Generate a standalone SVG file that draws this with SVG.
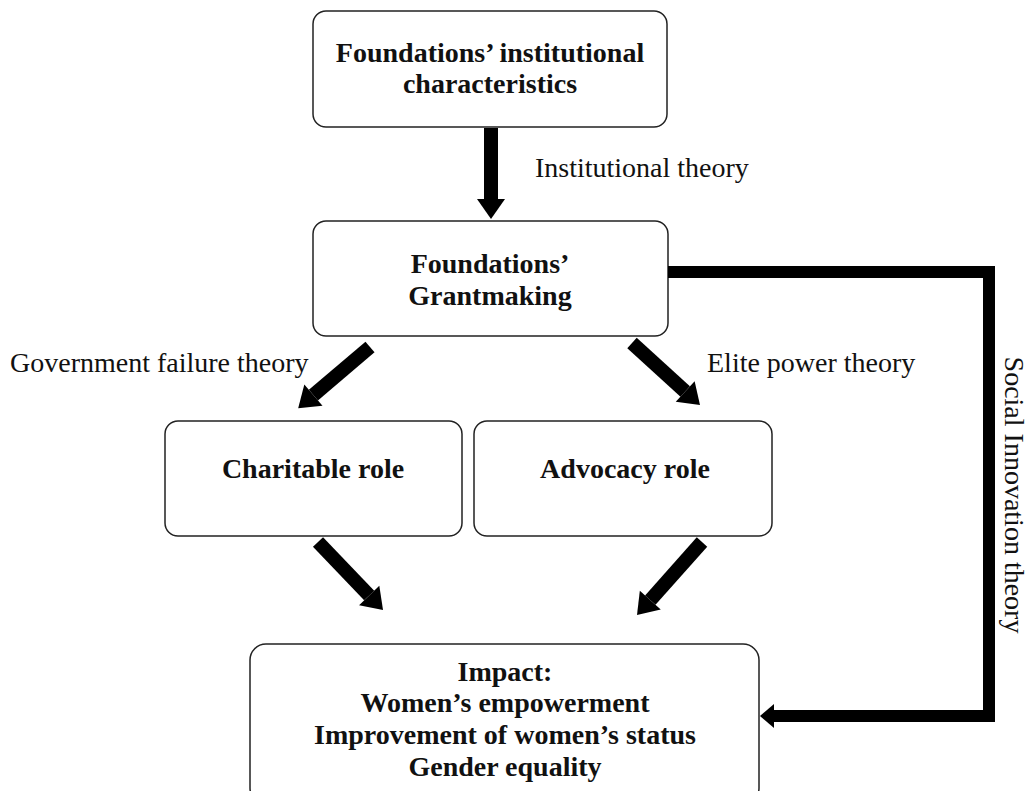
<svg xmlns="http://www.w3.org/2000/svg" width="1035" height="791" viewBox="0 0 1035 791">
<defs>
<marker id="ah" markerUnits="userSpaceOnUse" markerWidth="20" markerHeight="28" refX="0" refY="14" orient="auto" overflow="visible">
<path d="M0,0 L20,14 L0,28 z" fill="#000"/>
</marker>
<marker id="ah2" markerUnits="userSpaceOnUse" markerWidth="14" markerHeight="24" refX="0" refY="12" orient="auto" overflow="visible">
<path d="M0,0 L14,12 L0,24 z" fill="#000"/>
</marker>
<style>
.box{fill:#fff;stroke:#222;stroke-width:1.5}
.bt{font-family:"Liberation Serif","Times New Roman",serif;font-weight:bold;font-size:28px;fill:#111;text-anchor:middle}
.lb{font-family:"Liberation Serif","Times New Roman",serif;font-size:28px;fill:#111}
.ar{stroke:#000;stroke-width:14;fill:none;marker-end:url(#ah)}
.sc{stroke:#000;stroke-width:12;fill:none;stroke-linejoin:miter;marker-end:url(#ah2)}
</style>
</defs>
<rect width="1035" height="791" fill="#fff"/>
<g id="n1"><rect class="box" x="313" y="11" width="354" height="116" rx="13"/>
<text class="bt" x="490" y="62">Foundations’ institutional</text>
<text class="bt" x="490" y="93">characteristics</text></g>
<g id="n2"><rect class="box" x="313" y="221" width="355" height="115" rx="13"/>
<text class="bt" x="490" y="273">Foundations’</text>
<text class="bt" x="490" y="305">Grantmaking</text></g>
<g id="n3"><rect class="box" x="165" y="421" width="297" height="115" rx="13"/>
<text class="bt" x="313" y="478">Charitable role</text></g>
<g id="n4"><rect class="box" x="474" y="421" width="298" height="115" rx="13"/>
<text class="bt" x="625" y="478">Advocacy role</text></g>
<g id="n5"><rect class="box" x="250" y="644" width="509" height="160" rx="16"/>
<text class="bt" x="505" y="681">Impact:</text>
<text class="bt" x="505" y="712">Women’s empowerment</text>
<text class="bt" x="505" y="744">Improvement of women’s status</text>
<text class="bt" x="505" y="776">Gender equality</text></g>
<g id="connectors">
<line class="ar" x1="491" y1="128" x2="491" y2="199"/>
<line class="ar" x1="370" y1="347" x2="313.4" y2="395.2"/>
<line class="ar" x1="632" y1="343" x2="685.2" y2="391.5"/>
<line class="ar" x1="318" y1="542" x2="369.2" y2="595.5"/>
<line class="ar" x1="702" y1="542" x2="650.3" y2="600.1"/>
<path class="sc" d="M668,272 H989 V716 H774"/>
</g>
<g id="labels">
<text class="lb" x="535" y="177">Institutional theory</text>
<text class="lb" x="10" y="372">Government failure theory</text>
<text class="lb" x="707" y="372">Elite power theory</text>
<text class="lb" x="1005" y="495" text-anchor="middle" transform="rotate(90 1005 495)">Social Innovation theory</text>
</g>
</svg>
